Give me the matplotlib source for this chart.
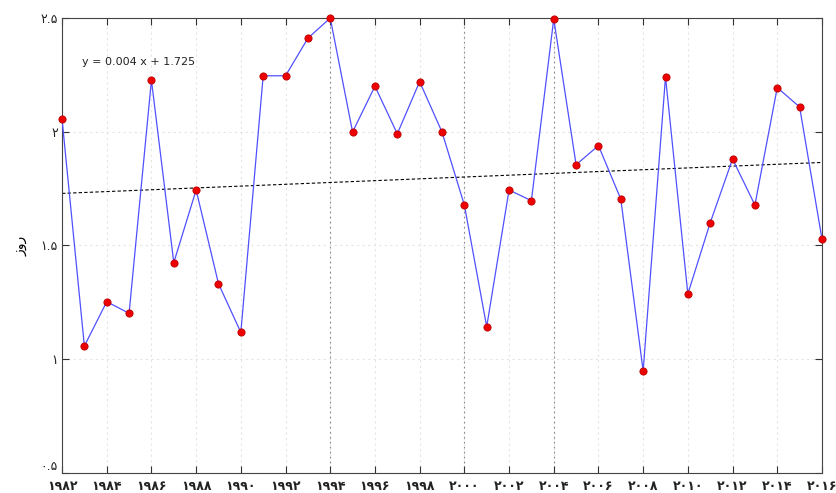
import numpy as np
import matplotlib
matplotlib.use("Agg")
import matplotlib.pyplot as plt

years = list(range(1982, 2017))
values = [2.056, 1.058, 1.253, 1.202, 2.227, 1.425, 1.744, 1.332, 1.118, 2.246,
          2.246, 2.411, 2.500, 1.999, 2.200, 1.991, 2.220, 1.999, 1.678, 1.143,
          1.744, 1.697, 2.496, 1.855, 1.939, 1.704, 0.948, 2.241, 1.287, 1.600,
          1.880, 1.678, 2.194, 2.109, 1.529]
trend_slope = 0.004
trend_intercept = 1.725
equation_text = "y = 0.004 x + 1.725"
ylabel_text = "روز"
xticks = list(range(1982, 2017, 2))
yticks = [0.5, 1.0, 1.5, 2.0, 2.5]
highlight_years = [1994, 2000, 2004]

persian = str.maketrans("0123456789", "۰۱۲۳۴۵۶۷۸۹")
def fa(s):
    return str(s).translate(persian)

fig = plt.figure(figsize=(8.36, 4.93), dpi=100)
ax = fig.add_axes([0.0742, 0.0406, 0.9090, 0.9229])

ax.set_xlim(1982, 2016)
ax.set_ylim(0.5, 2.5)

# grid
for t in xticks:
    ax.axvline(t, color="#e4e4e4", lw=0.8, ls=(0, (2, 3)), zorder=0)
for t in yticks:
    ax.axhline(t, color="#e4e4e4", lw=0.8, ls=(0, (2, 3)), zorder=0)
for t in highlight_years:
    ax.axvline(t, color="#888888", lw=0.8, ls=(0, (1.5, 3)), zorder=0)

# trend line
idx = np.arange(1, len(years) + 1)
trend = trend_slope * idx + trend_intercept
ax.plot(years, trend, color="black", lw=0.8, ls=(0, (3, 2)), zorder=2)

# data
ax.plot(years, values, color="#5050ff", lw=0.9, zorder=3,
        marker="o", markersize=5.2, markerfacecolor="#ee0000",
        markeredgecolor="#bb0000", markeredgewidth=0.6, clip_on=False)

ax.text(1982.9, 2.307, equation_text, fontsize=8, family="DejaVu Sans",
        color="#222222", ha="left", va="center")

ax.set_xticks(xticks)
ax.set_xticklabels([fa(t) for t in xticks], fontsize=9, family="DejaVu Sans",
                   fontweight="bold", color="#222222")
ax.set_yticks(yticks)
ylabels = ax.set_yticklabels([fa("%g" % t) for t in yticks],
                             fontsize=9, family="DejaVu Sans", color="#222222")
ylabels[0].set_va("bottom")
ax.tick_params(direction="in", length=5, width=0.8, top=True, right=True,
               labeltop=False, labelright=False, color="#333333")
ax.tick_params(axis="x", pad=5)
ax.tick_params(axis="y", pad=3)
for s in ax.spines.values():
    s.set_linewidth(0.8)
    s.set_color("#444444")

ax.set_ylabel(ylabel_text[::-1], fontsize=10, family="DejaVu Sans", labelpad=18)
ax.yaxis.set_label_coords(-0.045, 0.5)

fig.savefig("out.png", dpi=100)
